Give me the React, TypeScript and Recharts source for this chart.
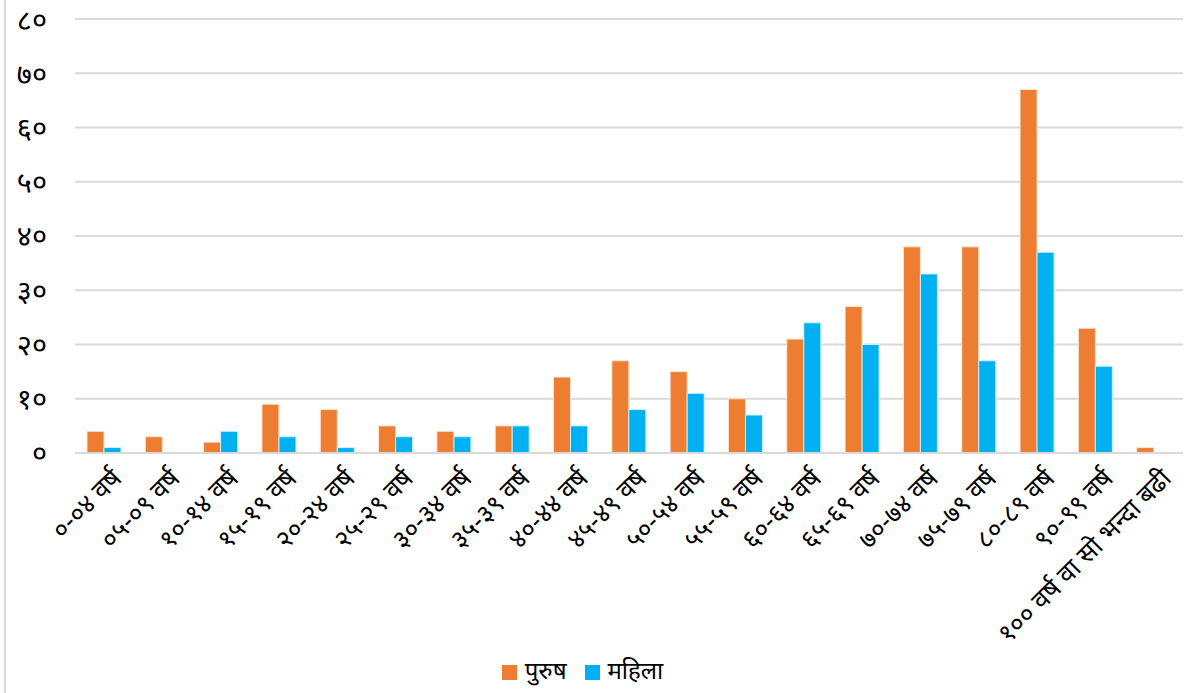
import { Bar, BarChart, CartesianGrid, Legend, XAxis, YAxis } from 'recharts'

const UMER_SAMUH = [
  '०-०४ वर्ष',
  '०५-०९ वर्ष',
  '१०-१४ वर्ष',
  '१५-१९ वर्ष',
  '२०-२४ वर्ष',
  '२५-२९ वर्ष',
  '३०-३४ वर्ष',
  '३५-३९ वर्ष',
  '४०-४४ वर्ष',
  '४५-४९ वर्ष',
  '५०-५४ वर्ष',
  '५५-५९ वर्ष',
  '६०-६४ वर्ष',
  '६५-६९ वर्ष',
  '७०-७४ वर्ष',
  '७५-७९ वर्ष',
  '८०-८९ वर्ष',
  '९०-९९ वर्ष',
  '१०० वर्ष वा सो भन्दा बढी',
]

const PURUSH = [4, 3, 2, 9, 8, 5, 4, 5, 14, 17, 15, 10, 21, 27, 38, 38, 67, 23, 1]
const MAHILA = [1, 0, 4, 3, 1, 3, 3, 5, 5, 8, 11, 7, 24, 20, 33, 17, 37, 16, 0]

const Y_TICKS = [0, 10, 20, 30, 40, 50, 60, 70, 80]

const NEPALI_ANK = ['०', '१', '२', '३', '४', '५', '६', '७', '८', '९']
const toNepali = (n: number) => String(n).replace(/\d/g, (d) => NEPALI_ANK[Number(d)])

const FONT = '"Noto Sans Devanagari", "Lohit Devanagari", "Noto Sans", sans-serif'

const data = UMER_SAMUH.map((umer, i) => ({ umer, purush: PURUSH[i], mahila: MAHILA[i] }))

function XTick({ x, y, payload }: any) {
  return (
    <text
      x={0}
      y={0}
      transform={`translate(${x + 6},${y + 6}) rotate(-45)`}
      textAnchor="end"
      dominantBaseline="hanging"
      fontSize={26}
      fontFamily={FONT}
      fill="#000"
    >
      {payload.value}
    </text>
  )
}

export default function App() {
  return (
    <div
      style={{
        position: 'absolute',
        left: 0,
        top: 0,
        width: 1184,
        height: 693,
        background: '#fff',
        fontFamily: FONT,
      }}
    >
      <div style={{ position: 'absolute', left: 4, top: 0, width: 2, height: 693, background: '#d9d9d9' }} />
      <BarChart
        width={1184}
        height={693}
        data={data}
        margin={{ top: 19, right: 1, left: 0, bottom: 0 }}
        barCategoryGap={12}
        barGap={0}
      >
        <CartesianGrid vertical={false} stroke="#d9d9d9" strokeWidth={2} />
        <XAxis
          dataKey="umer"
          interval={0}
          height={196}
          tick={<XTick />}
          tickLine={false}
          axisLine={{ stroke: '#d9d9d9', strokeWidth: 2 }}
        />
        <YAxis
          width={75}
          domain={[0, 80]}
          ticks={Y_TICKS}
          tickFormatter={toNepali}
          tickLine={false}
          axisLine={false}
          tickSize={0}
          tickMargin={28}
          tick={{ fontSize: 29, fill: '#000', fontFamily: FONT }}
        />
        <Legend
          verticalAlign="bottom"
          height={44}
          iconType="square"
          iconSize={15}
          wrapperStyle={{ fontSize: 24, fontFamily: FONT, bottom: -8 }}
          formatter={(v) => <span style={{ color: '#000', paddingLeft: 4, paddingRight: 8 }}>{v}</span>}
        />
        <Bar dataKey="purush" name="पुरुष" fill="#ED7D31" stroke="#fbe3d4" strokeWidth={1} isAnimationActive={false} />
        <Bar dataKey="mahila" name="महिला" fill="#00B0F0" stroke="#cdeffc" strokeWidth={1} isAnimationActive={false} />
      </BarChart>
    </div>
  )
}
